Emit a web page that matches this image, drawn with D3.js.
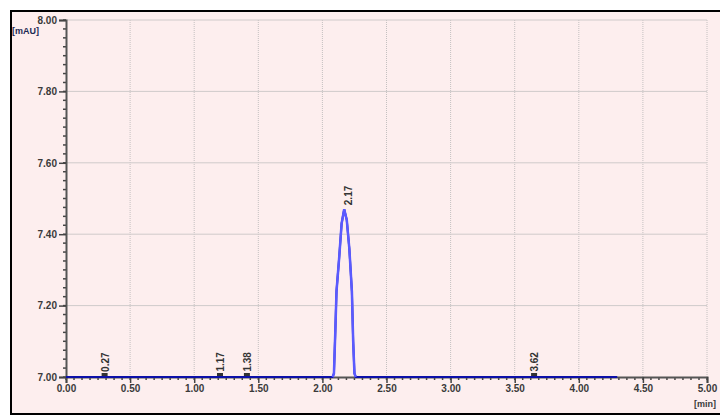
<!DOCTYPE html>
<html>
<head>
<meta charset="utf-8">
<script src="https://cdn.jsdelivr.net/npm/d3@7"></script>
<style>
  body { margin: 0; background: #fff; }
  text { font-family: "Liberation Sans", Arial, sans-serif; font-weight: bold; }
</style>
</head>
<body>
<div id="chart"></div>
<script>
// retention time (min) and signal (mAU) of the trace
const traceTimes = [0.00, 2.08, 2.09, 2.10, 2.11, 2.13, 2.15, 2.17, 2.19, 2.21, 2.23, 2.24, 2.25, 2.26, 4.30];
const traceValues = [7.00, 7.00, 7.01, 7.12, 7.24, 7.33, 7.43, 7.47, 7.44, 7.36, 7.24, 7.10, 7.01, 7.00, 7.00];

// labelled peaks
const peakTimes = [0.27, 1.17, 1.38, 2.17, 3.62];
const peakHeights = [7.003, 7.004, 7.004, 7.47, 7.004];
const peakLabels = ['0.27', '1.17', '1.38', '2.17', '3.62'];

// axis ticks
const xTicks = [0.00, 0.50, 1.00, 1.50, 2.00, 2.50, 3.00, 3.50, 4.00, 4.50, 5.00];
const yTicks = [7.00, 7.20, 7.40, 7.60, 7.80, 8.00];

const width = 720, height = 416;
const margin = { top: 20, right: 13, bottom: 39, left: 66 };

const svg = d3.select('#chart').append('svg')
  .attr('width', width)
  .attr('height', height);

// panel background and frame
svg.append('rect')
  .attr('x', 11).attr('y', 11)
  .attr('width', 720).attr('height', 403)
  .attr('fill', '#fdeeee')
  .attr('stroke', '#000')
  .attr('stroke-width', 2);

const x = d3.scaleLinear().domain([0, 5]).range([margin.left, width - margin.right]);
const y = d3.scaleLinear().domain([7, 8]).range([height - margin.bottom, margin.top]);

// grid
svg.append('g').selectAll('line')
  .data(xTicks.slice(1))
  .join('line')
  .attr('x1', d => x(d)).attr('x2', d => x(d))
  .attr('y1', y(8)).attr('y2', y(7))
  .attr('stroke', '#c4c0c0')
  .attr('stroke-width', 1)
  .attr('stroke-dasharray', '1,1');

svg.append('g').selectAll('line')
  .data(yTicks.slice(1))
  .join('line')
  .attr('x1', x(0)).attr('x2', x(5))
  .attr('y1', d => y(d)).attr('y2', d => y(d))
  .attr('stroke', '#cfcaca')
  .attr('stroke-width', 1);

// minor ticks (8 subdivisions)
const xMinor = d3.range(0, 5.0001, 0.0625);
const yMinor = d3.range(7, 8.0001, 0.025);

svg.append('g').selectAll('line')
  .data(xMinor)
  .join('line')
  .attr('x1', d => x(d)).attr('x2', d => x(d))
  .attr('y1', y(7)).attr('y2', y(7) + 3)
  .attr('stroke', '#444').attr('stroke-width', 1.5);

svg.append('g').selectAll('line')
  .data(yMinor)
  .join('line')
  .attr('x1', x(0) - 3).attr('x2', x(0))
  .attr('y1', d => y(d)).attr('y2', d => y(d))
  .attr('stroke', '#444').attr('stroke-width', 1.5);

// axes
const xAxis = svg.append('g')
  .attr('transform', `translate(0,${y(7)})`)
  .call(d3.axisBottom(x).tickValues(xTicks).tickFormat(d3.format('.2f')).tickSize(6).tickPadding(2));

const yAxis = svg.append('g')
  .attr('transform', `translate(${x(0)},0)`)
  .call(d3.axisLeft(y).tickValues(yTicks).tickFormat(d3.format('.2f')).tickSize(7).tickPadding(2));

[xAxis, yAxis].forEach(g => {
  g.select('.domain').attr('stroke', '#555').attr('stroke-width', 2);
  g.selectAll('.tick line').attr('stroke', '#444').attr('stroke-width', 1.5);
  g.selectAll('.tick text')
    .attr('fill', '#3a3a3a')
    .style('font-size', '10px');
});

// unit labels
svg.append('text')
  .attr('x', 12).attr('y', 34)
  .attr('fill', '#1c2a55')
  .style('font-size', '9px')
  .text('[mAU]');

svg.append('text')
  .attr('x', 694).attr('y', 407)
  .attr('fill', '#3a3a3a')
  .style('font-size', '9px')
  .text('[min]');

// trace
const points = traceTimes.map((t, i) => [t, traceValues[i]]);
const line = d3.line().x(d => x(d[0])).y(d => y(d[1]));

svg.append('path')
  .datum(points)
  .attr('d', line)
  .attr('fill', 'none')
  .attr('stroke', '#0c10a8')
  .attr('stroke-width', 2);

const peakPoints = points.filter(d => d[0] >= 2.08 && d[0] <= 2.26);
svg.append('path')
  .datum(peakPoints)
  .attr('d', line)
  .attr('fill', 'none')
  .attr('stroke', '#5a5aff')
  .attr('stroke-width', 2.5);

// small peak markers
svg.append('g').selectAll('rect')
  .data(peakTimes.filter((d, i) => peakHeights[i] < 7.1))
  .join('rect')
  .attr('x', d => x(d) + 1)
  .attr('y', y(7) - 4)
  .attr('width', 6).attr('height', 3)
  .attr('fill', '#333');

// peak labels
svg.append('g').selectAll('text')
  .data(peakTimes)
  .join('text')
  .attr('transform', (d, i) => `translate(${x(d) + 8},${y(peakHeights[i]) - 4}) rotate(-90)`)
  .attr('fill', '#333')
  .style('font-size', '10px')
  .text((d, i) => peakLabels[i]);
</script>
</body>
</html>
